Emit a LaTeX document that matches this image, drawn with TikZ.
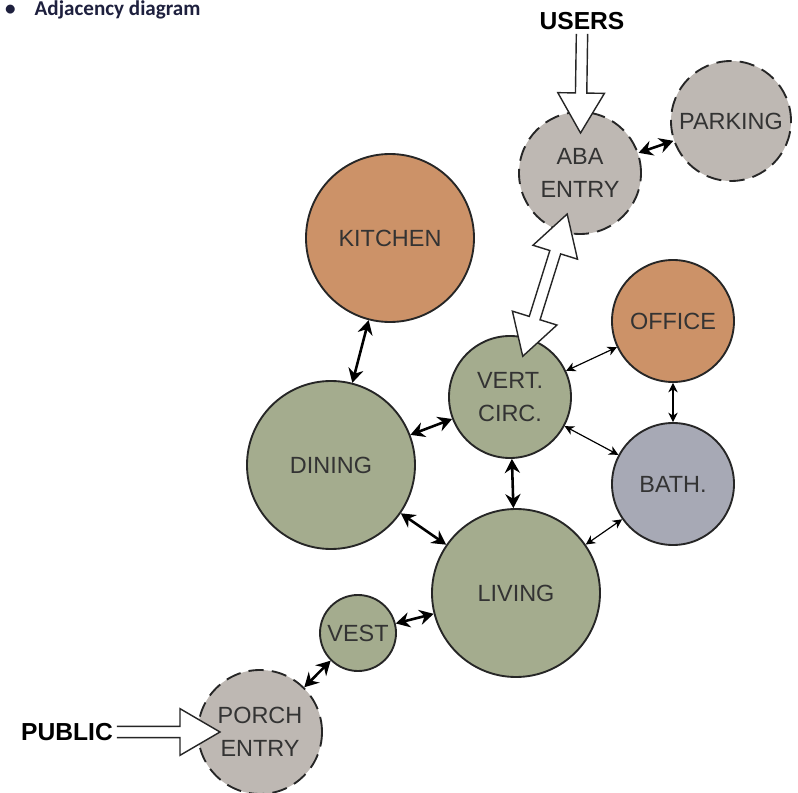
\documentclass[tikz,border=0pt]{standalone}
\usepackage{fontspec}
\setmainfont{Liberation Sans}
\newfontfamily\titlefont{Carlito}
\usepackage{tikz}
\usetikzlibrary{arrows.meta, calc}
\definecolor{roomgreen}{RGB}{164,172,142}
\definecolor{roomorange}{RGB}{204,146,104}
\definecolor{roomblue}{RGB}{167,169,181}
\definecolor{roomgray}{RGB}{190,184,179}
\definecolor{titleblue}{RGB}{30,32,62}
\tikzstyle{room} = [circle, draw=black!85, line width=1.6pt, inner sep=0pt, align=center, text=black!80, font=\fontsize{20}{28}\selectfont]
\tikzstyle{bigroom} = [room, minimum size=5.04cm]
\tikzstyle{midroom} = [room, minimum size=3.66cm]
\tikzstyle{vestroom} = [room, minimum size=2.28cm]
\tikzstyle{greenfill} = [fill=roomgreen]
\tikzstyle{orangefill} = [fill=roomorange]
\tikzstyle{bathfill} = [fill=roomblue]
\tikzstyle{outside} = [fill=roomgray, dash pattern=on 13pt off 7pt]
\tikzstyle{source} = [font=\bfseries\fontsize{21}{25}\selectfont]
\tikzstyle{link} = [line width=2.2pt, <->, >={Stealth[length=12pt, width=13pt, inset=4pt]}]
\tikzstyle{thinlink} = [line width=1pt, <->, >={Stealth[length=8pt, width=8pt, inset=2.5pt]}]
\tikzstyle{hollow} = [draw=black!85, fill=white, line width=1.2pt, to path={
  ($(\tikztostart)!0.17cm!90:(\tikztotarget)$)
  -- ($(\tikztotarget)!1.2cm!(\tikztostart)!0.17cm!-90:(\tikztostart)$)
  -- ($(\tikztotarget)!1.2cm!(\tikztostart)!0.7cm!-90:(\tikztostart)$)
  -- (\tikztotarget)
  -- ($(\tikztotarget)!1.2cm!(\tikztostart)!0.7cm!90:(\tikztostart)$)
  -- ($(\tikztotarget)!1.2cm!(\tikztostart)!0.17cm!90:(\tikztostart)$)
  -- ($(\tikztostart)!0.17cm!-90:(\tikztotarget)$)}]
\tikzstyle{hollowboth} = [draw=black!85, fill=white, line width=1.2pt, to path={
  ($(\tikztostart)!1.2cm!(\tikztotarget)!0.17cm!90:(\tikztotarget)$)
  -- ($(\tikztotarget)!1.2cm!(\tikztostart)!0.17cm!-90:(\tikztostart)$)
  -- ($(\tikztotarget)!1.2cm!(\tikztostart)!0.7cm!-90:(\tikztostart)$)
  -- (\tikztotarget)
  -- ($(\tikztotarget)!1.2cm!(\tikztostart)!0.7cm!90:(\tikztostart)$)
  -- ($(\tikztotarget)!1.2cm!(\tikztostart)!0.17cm!90:(\tikztostart)$)
  -- ($(\tikztostart)!1.2cm!(\tikztotarget)!0.17cm!-90:(\tikztotarget)$)
  -- ($(\tikztostart)!1.2cm!(\tikztotarget)!0.7cm!-90:(\tikztotarget)$)
  -- (\tikztostart)
  -- ($(\tikztostart)!1.2cm!(\tikztotarget)!0.7cm!90:(\tikztotarget)$)
  -- cycle}]

\begin{document}
\begin{tikzpicture}[x=0.03cm, y=-0.03cm]
\useasboundingbox (0,0) rectangle (798,793);

\node (title) [anchor=base west, inner sep=0pt, text=titleblue, font=\titlefont\bfseries\fontsize{18}{22}\selectfont] at (5,16) {•\hspace{0.9em}Adjacency diagram};

\node (kitchen) [bigroom, orangefill] at (390,238) {KITCHEN};
\node (dining) [bigroom, greenfill] at (331,465) {DINING};
\node (living) [bigroom, greenfill] at (516,593) {LIVING};
\node (vert) [midroom, greenfill] at (510,397) {VERT.\\CIRC.};
\node (office) [midroom, orangefill] at (673,321) {OFFICE};
\node (bath) [midroom, bathfill] at (673,484) {BATH.};
\node (vest) [vestroom, greenfill] at (358,633) {VEST};
\node (aba) [midroom, outside] at (580,173) {ABA\\ENTRY};
\node (parking) [room, outside, minimum size=3.6cm] at (731,121) {PARKING};
\node (porch) [midroom, outside, minimum size=3.72cm] at (260,732) {PORCH\\ENTRY};
\node (users) [source] at (582,21) {USERS};
\node (public) [source] at (67,732) {PUBLIC};

\coordinate (usersTip) at ($(aba)!1.2cm!(users)$);
\coordinate (publicTip) at ($(porch)!1.2cm!(public)$);
\coordinate (abaDoor) at ($(aba)!1.29cm!(vert)$);
\coordinate (vertDoor) at ($(vert)!1.28cm!(aba)$);

\draw [link] (kitchen) -- (dining);
\draw [link] (dining) -- (vert);
\draw [link] (dining) -- (living);
\draw [link] (vert) -- (living);
\draw [link] (living) -- (vest);
\draw [link] (vest) -- (porch);
\draw [link] (aba) -- (parking);
\draw [thinlink] (vert) -- (office);
\draw [thinlink] (vert) -- (bath);
\draw [thinlink] (office) -- (bath);
\draw [thinlink] (bath) -- (living);

\draw [hollow] (users.south) to (usersTip);
\draw [hollow] (public.east) to (publicTip);
\draw [hollowboth] (vertDoor) to (abaDoor);

\end{tikzpicture}
\end{document}
